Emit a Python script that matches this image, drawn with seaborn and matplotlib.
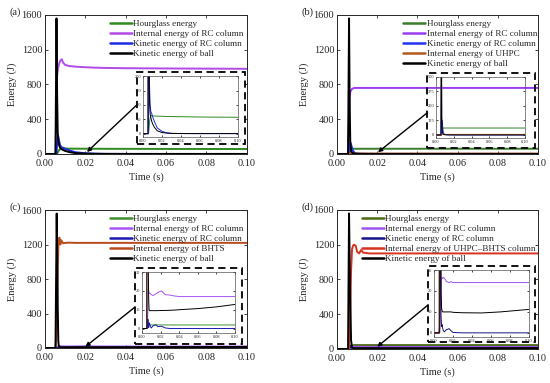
import matplotlib

matplotlib.use("Agg")

import matplotlib.pyplot as plt
import pandas as pd
import seaborn as sns
from matplotlib.patches import Rectangle

# ---- data (time in s, energy in J) ----
TA = [0, 0.0052, 0.0057, 0.0060, 0.0063, 0.0066, 0.0070, 0.0075, 0.0083, 0.0090,
      0.0100, 0.0120, 0.0150, 0.0200, 0.0250, 0.0300, 0.0400, 0.0600, 0.0800, 0.1000]
A_HOURGLASS = [0, 0, 0, 5, 15, 30, 45, 55, 62, 63, 62, 61.5, 61, 60.5, 60, 59.5, 59, 58, 57.5, 57]
A_INTERNAL_RC = [0, 0, 600, 900, 960, 1000, 1040, 1070, 1090, 1050, 1025, 1012, 1005,
                 998, 993, 990, 987, 984, 982, 980]
A_KINETIC_RC = [0, 0, 0, 120, 210, 200, 150, 100, 75, 72, 60, 42, 20, 8, 3, 1, 0.3, 0.2, 0.2, 0.2]
A_KINETIC_BALL = [0, 0, 1560, 700, 250, 150, 100, 70, 55, 45, 35, 22, 10, 4, 2, 1, 0.5, 0.3, 0.3, 0.3]

TB = [0, 0.0055, 0.0060, 0.0063, 0.0066, 0.0070, 0.0075, 0.0080, 0.0088, 0.0100,
      0.0120, 0.0150, 0.0200, 0.0300, 0.0500, 0.0700, 0.1000]
B_HOURGLASS = [0, 0, 0, 10, 30, 48, 57, 60, 60, 60, 60, 60, 60, 60, 60, 60, 60]
B_INTERNAL_RC = [0, 0, 400, 650, 710, 735, 748, 755, 760, 760, 760, 760, 760, 760, 760, 760, 760]
B_KINETIC_RC = [0, 0, 0, 80, 130, 110, 70, 35, 12, 4, 2, 1, 0.5, 0.3, 0.2, 0.2, 0.2]
B_INTERNAL_UHPC = [0, 0, 0, 8, 10, 9, 8, 7, 6, 5, 5, 5, 5, 5, 5, 5, 5]
B_KINETIC_BALL = [0, 0, 1560, 600, 150, 40, 15, 8, 4, 2, 1, 0.5, 0.3, 0.2, 0.2, 0.2, 0.2]

TC = [0, 0.0052, 0.0058, 0.0063, 0.0066, 0.0068, 0.0072, 0.0076, 0.0080, 0.0090, 0.0100,
      0.0120, 0.0150, 0.0170, 0.0210, 0.0250, 0.0300, 0.0350, 0.0400, 0.0600, 0.0800, 0.1000]
C_HOURGLASS = [0, 0, 0, 0.5, 1, 1.3, 1.5, 1.6, 1.8, 1.9, 1.9, 1.9, 1.9, 1.9, 1.9, 1.9,
               1.9, 1.9, 1.9, 1.9, 1.9, 1.9]
C_INTERNAL_RC = [0, 0, 2, 10, 18, 21, 20, 19, 18.8, 18.5, 18, 17.5, 18.5, 19.2, 20, 18,
                 17.8, 17.3, 17, 17, 17, 17]
C_KINETIC_RC = [0, 0, 1, 5, 4, 2, 0.5, 2.5, 3, 1, 0.3, 1.5, 2, 1, 1.2, 0.3, 0, 0, 0, 0, 0, 0]
C_INTERNAL_BHTS = [0, 0, 200, 900, 1150, 1270, 1280, 1200, 1250, 1215, 1220, 1222,
                   1220, 1220, 1220, 1220, 1220, 1220, 1220, 1220, 1220, 1220]
C_KINETIC_BALL = [0, 0, 1560, 500, 80, 30, 15, 10, 9.5, 9.5, 9.5, 9.5, 9.5, 9.5, 9.6,
                  9.6, 9.7, 9.8, 10.0, 10.6, 11.5, 12.8]

TD = [0, 0.0055, 0.0060, 0.0065, 0.0070, 0.0075, 0.0080, 0.0085, 0.0093, 0.0100, 0.0110,
      0.0120, 0.0130, 0.0160, 0.0180, 0.0200, 0.0300, 0.0500, 0.0700, 0.1000]
D_HOURGLASS = [0, 0, 0, 5, 20, 35, 42, 45, 45, 45, 45, 45, 45, 45, 45, 45, 45, 45, 45, 45]
D_INTERNAL_RC = [0, 0, 2, 10, 20, 26, 26, 26.5, 26, 26.5, 26, 25.5, 24.5, 24, 24.5, 24, 24, 24, 24, 24]
D_KINETIC_RC = [0, 0, 5, 40, 25, 8, 3, 4, 2, 1, 0.5, 1, 1.5, 2, 1, 0.2, 0, 0, 0, 0]
D_INTERNAL_COMP = [0, 0, 0, 300, 900, 1150, 1190, 1200, 1190, 1120, 1100, 1140, 1110,
                   1100, 1100, 1100, 1100, 1100, 1100, 1100]
D_KINETIC_BALL = [0, 0, 1560, 700, 100, 20, 12, 10.5, 10, 10, 10, 10, 10, 10, 10, 9.8,
                  9.6, 9.5, 10, 11.2]

YTICKS = [0, 400, 800, 1200, 1600]
XTICKS = [0.00, 0.02, 0.04, 0.06, 0.08, 0.10]

PANELS = [
    {
        "tag": "(a)", "t": TA,
        "series": [
            ("Hourglass energy", A_HOURGLASS, "#2f8a1f"),
            ("Internal energy of RC column", A_INTERNAL_RC, "#b24ae8"),
            ("Kinetic energy of RC column", A_KINETIC_RC, "#1c2de0"),
            ("Kinetic energy of ball", A_KINETIC_BALL, "black"),
        ],
        "ax": [0.0818, 0.598, 0.367, 0.363],
        "inset": [0.260, 0.642, 0.173, 0.159],
        "inset_y": (-12, 200), "inset_ticks": [0, 50, 100, 150, 200],
        "box": (0.455, 0.072, 0.535, 0.518),
        "arrow": ((0.0208, 23), (0.455, 0.353)),
        "legend": (0.32, 0.965),
    },
    {
        "tag": "(b)", "t": TB,
        "series": [
            ("Hourglass energy", B_HOURGLASS, "#3a7d2a"),
            ("Internal energy of RC column", B_INTERNAL_RC, "#9a3df0"),
            ("Kinetic energy of RC column", B_KINETIC_RC, "#1f35f0"),
            ("Internal energy of UHPC", B_INTERNAL_UHPC, "#b5571f"),
            ("Kinetic energy of ball", B_KINETIC_BALL, "black"),
        ],
        "ax": [0.6127, 0.598, 0.3655, 0.363],
        "inset": [0.7927, 0.640, 0.162, 0.159],
        "inset_y": (-25, 500), "inset_ticks": [0, 125, 250, 375, 500],
        "box": (0.448, 0.043, 0.537, 0.540),
        "arrow": ((0.0204, 20), (0.448, 0.295)),
        "legend": (0.33, 0.965),
    },
    {
        "tag": "(c)", "t": TC,
        "series": [
            ("Hourglass energy", C_HOURGLASS, "#3f8f2f"),
            ("Internal energy of RC column", C_INTERNAL_RC, "#a855f7"),
            ("Kinetic energy of RC column", C_KINETIC_RC, "#1a1ab0"),
            ("Internal energy of BHTS", C_INTERNAL_BHTS, "#b84a1c"),
            ("Kinetic energy of ball", C_KINETIC_BALL, "black"),
        ],
        "ax": [0.0818, 0.0914, 0.367, 0.360],
        "inset": [0.2582, 0.1305, 0.169, 0.159],
        "inset_y": (-2.4, 30), "inset_ticks": [0, 10, 20, 30],
        "box": (0.446, 0.029, 0.529, 0.551),
        "arrow": ((0.020, 15), (0.446, 0.297)),
        "legend": (0.32, 0.965),
    },
    {
        "tag": "(d)", "t": TD,
        "series": [
            ("Hourglass energy", D_HOURGLASS, "#4b6b12"),
            ("Internal energy of RC column", D_INTERNAL_RC, "#9d55f0"),
            ("Kinetic energy of RC column", D_KINETIC_RC, "#14148a"),
            ("Internal energy of UHPC\u2013BHTS column", D_INTERNAL_COMP, "#d8321e"),
            ("Kinetic energy of ball", D_KINETIC_BALL, "black"),
        ],
        "ax": [0.6127, 0.0888, 0.3655, 0.3629],
        "inset": [0.789, 0.120, 0.1727, 0.175],
        "inset_y": (-2, 30), "inset_ticks": [0, 10, 20, 30],
        "box": (0.453, 0.050, 0.532, 0.547),
        "arrow": ((0.020, 25), (0.453, 0.317)),
        "legend": (0.125, 0.965),
    },
]


def style_axis(ax, size, length, pad):
    ax.tick_params(direction="in", top=True, right=True, labelsize=size,
                   length=length, width=0.6, pad=pad)
    for sp in ax.spines.values():
        sp.set_linewidth(0.7)


def draw_panel(fig, p):
    ax = fig.add_axes(p["ax"])
    df = pd.DataFrame({"t": p["t"]})
    for label, values, color in p["series"]:
        df[label] = values
        sns.lineplot(data=df, x="t", y=label, ax=ax, color=color, lw=1.4, label=label)
    ax.set_xlim(0, 0.1)
    ax.set_ylim(0, 1600)
    ax.set_xticks(XTICKS)
    ax.set_xticklabels([f"{v:.2f}" for v in XTICKS])
    ax.set_yticks(YTICKS)
    style_axis(ax, 7.5, 2.5, 2)
    ax.tick_params(axis="x", pad=3.5)
    ax.set_xlabel("Time (s)", fontsize=7.5, labelpad=3.5)
    ax.set_ylabel("Energy (J)", fontsize=7.5, labelpad=3)
    ax.legend(loc="upper left", bbox_to_anchor=p["legend"], frameon=False,
              fontsize=6.6, handlelength=2.4, handletextpad=0.15, labelspacing=0.17,
              borderaxespad=0, borderpad=0)
    for line in ax.get_legend().get_lines():
        line.set_linewidth(1.8)

    x0, y0, w, h = p["box"]
    ax.add_patch(Rectangle((x0, y0), w, h, transform=ax.transAxes, fill=False,
                           ls=(0, (4, 2.5)), lw=1.3, color="black", zorder=5))
    ax.annotate("", xy=p["arrow"][0], xycoords="data",
                xytext=p["arrow"][1], textcoords="axes fraction",
                arrowprops=dict(arrowstyle="-|>", color="black", lw=1.0,
                                mutation_scale=6, shrinkA=0, shrinkB=0))

    ins = fig.add_axes(p["inset"])
    ins.patch.set_alpha(0)
    for label, values, color in p["series"]:
        sns.lineplot(data=df, x="t", y=label, ax=ins, color=color, lw=0.7, legend=False)
    ins.set_xlim(0, 0.1)
    ins.set_ylim(*p["inset_y"])
    ins.set_xticks(XTICKS)
    ins.set_xticklabels([f"{v:.2f}" for v in XTICKS])
    ins.set_yticks(p["inset_ticks"])
    ins.set_xlabel("")
    ins.set_ylabel("")
    style_axis(ins, 3.2, 1.2, 1.2)
    for sp in ins.spines.values():
        sp.set_color("#555555")
        sp.set_linewidth(0.5)

    fig.text(p["ax"][0] - 0.064, p["ax"][1] + p["ax"][3], p["tag"], fontsize=7.5)


sns.set_style("ticks")
plt.rcParams["font.family"] = ["Liberation Serif", "DejaVu Serif"]

fig = plt.figure(figsize=(5.5, 3.83), dpi=100)
for panel in PANELS:
    draw_panel(fig, panel)

fig.savefig("out.png", dpi=100)
plt.close(fig)
